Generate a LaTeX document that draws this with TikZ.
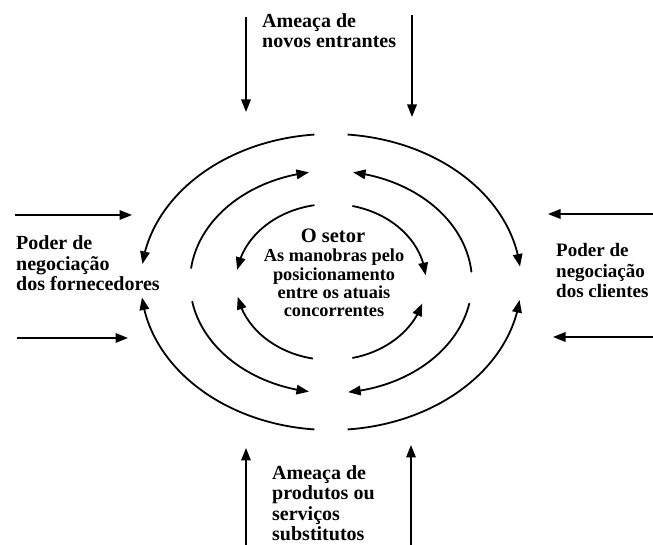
\documentclass[tikz,border=0pt]{standalone}
\usepackage{fontspec}
\setmainfont{Liberation Serif}
\usepackage{tikz}
\usetikzlibrary{arrows.meta,bending,positioning,calc}

\begin{document}
\begin{tikzpicture}[
    x=1pt, y=1pt,
    lbl/.style={inner sep=0pt, align=left, anchor=base west, font=\bfseries\fontsize{20}{20.5}\selectfont},
    ctr/.style={inner sep=0pt, align=center, anchor=base, font=\bfseries\fontsize{18.3}{18.4}\selectfont},
    arrow/.style={-{Triangle[length=12.5pt,width=9.5pt]}, line width=1.8pt},
]
\useasboundingbox (0,0) rectangle (653,545);

% Forces (anchored at the baseline of the last line)
\node[lbl] (entrantes) at (262,497) {Ameaça de\\novos entrantes};
\node[lbl] (substitutos) at (272,4) {Ameaça de\\produtos ou\\serviços\\substitutos};
\node[lbl] (fornecedores) at (16,254) {Poder de\\negociação\\dos fornecedores};
\node[lbl, font=\bfseries\fontsize{19}{20.5}\selectfont] (clientes) at (556,247) {Poder de\\negociação\\dos clientes};

% Centre
\node[ctr, font=\bfseries\fontsize{20.5}{21}\selectfont] (setor) at (333,302) {O setor};
\node[ctr] (manobras) at (334,228) {As manobras pelo\\posicionamento\\entre os atuais\\concorrentes};

% Straight arrows
\coordinate (e1a) at (246,528); \coordinate (e1b) at (246,433);
\coordinate (e2a) at (412,530); \coordinate (e2b) at (412,428);
\coordinate (s1a) at (246,0);   \coordinate (s1b) at (246,97);
\coordinate (s2a) at (411,0);   \coordinate (s2b) at (411,100);
\coordinate (f1a) at (15,330);  \coordinate (f1b) at (132,330);
\coordinate (f2a) at (17,207);  \coordinate (f2b) at (128,207);
\coordinate (c1a) at (653,331); \coordinate (c1b) at (548,331);
\coordinate (c2a) at (653,208); \coordinate (c2b) at (553,208);
\draw[arrow] (e1a) -- (e1b);
\draw[arrow] (e2a) -- (e2b);
\draw[arrow] (s1a) -- (s1b);
\draw[arrow] (s2a) -- (s2b);
\draw[arrow] (f1a) -- (f1b);
\draw[arrow] (f2a) -- (f2b);
\draw[arrow] (c1a) -- (c1b);
\draw[arrow] (c2a) -- (c2b);

% Rivalry rings
\coordinate (c) at (331,263);
% outer
\draw[arrow] (c) ++(95:190 and 148) arc[start angle=95, end angle=173, x radius=190, y radius=148];
\draw[arrow] (c) ++(85:190 and 148) arc[start angle=85, end angle=6, x radius=190, y radius=148];
\draw[arrow] (c) ++(265:190 and 148) arc[start angle=265, end angle=186, x radius=190, y radius=148];
\draw[arrow] (c) ++(275:190 and 148) arc[start angle=275, end angle=353, x radius=190, y radius=148];
% middle
\draw[arrow] (c) ++(173:141 and 111) arc[start angle=173, end angle=99, x radius=141, y radius=111];
\draw[arrow] (c) ++(5:141 and 111) arc[start angle=5, end angle=81, x radius=141, y radius=111];
\draw[arrow] (c) ++(190:141 and 111) arc[start angle=190, end angle=261, x radius=141, y radius=111];
\draw[arrow] (c) ++(349:141 and 111) arc[start angle=349, end angle=277, x radius=141, y radius=111];
% inner
\draw[arrow] (c) ++(100:95 and 78) arc[start angle=100, end angle=171, x radius=95, y radius=78];
\draw[arrow] (c) ++(77:95 and 78) arc[start angle=77, end angle=5, x radius=95, y radius=78];
\draw[arrow] (c) ++(259:95 and 78) arc[start angle=259, end angle=191, x radius=95, y radius=78];
\draw[arrow] (c) ++(283:95 and 78) arc[start angle=283, end angle=344, x radius=95, y radius=78];

\end{tikzpicture}
\end{document}
